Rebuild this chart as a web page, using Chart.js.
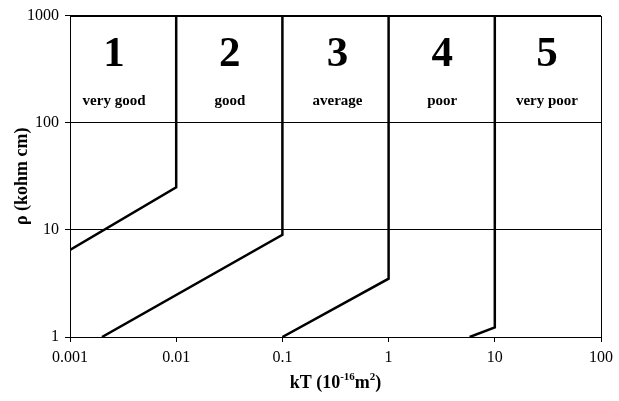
<!DOCTYPE html>
<html>
<head>
<meta charset="utf-8">
<script src="https://cdn.jsdelivr.net/npm/chart.js@4/dist/chart.umd.min.js"></script>
<style>
html,body{margin:0;padding:0;background:#fff;}
#wrap{width:619px;height:401px;position:relative;}
</style>
</head>
<body>
<div id="wrap"><canvas id="c" width="619" height="401"></canvas></div>
<script>
// ---- data ----
const xTicks = [0.001, 0.01, 0.1, 1, 10, 100];
const xTickLabels = ['0.001', '0.01', '0.1', '1', '10', '100'];
const yTicks = [1, 10, 100, 1000];
const yTickLabels = ['1', '10', '100', '1000'];

const line1X = [0.001, 0.01, 0.01];
const line1Y = [6.5, 25, 1000];
const line2X = [0.002, 0.1, 0.1];
const line2Y = [1, 9, 1000];
const line3X = [0.1, 1, 1];
const line3Y = [1, 3.5, 1000];
const line4X = [5.8, 10, 10];
const line4Y = [1, 1.23, 1000];

const zoneNumbers = ['1', '2', '3', '4', '5'];
const zoneNames = ['very good', 'good', 'average', 'poor', 'very poor'];
const zoneX = [0.0026, 0.032, 0.33, 3.2, 31];
const zoneNumberY = 430;
const zoneNameY = 160;

const xTitleParts = [['kT (10', false], ['-16', true], ['m', false], ['2', true], [')', false]];
const yTitle = 'ρ (kohm cm)';

function pts(xs, ys) { return xs.map((x, i) => ({x: x, y: ys[i]})); }

const FONT = '"Liberation Serif", "Times New Roman", serif';

const decor = {
  id: 'decor',
  afterDraw(chart) {
    const ctx = chart.ctx;
    const a = chart.chartArea;
    const xs = chart.scales.x, ys = chart.scales.y;
    ctx.save();
    // plot border
    ctx.strokeStyle = '#000';
    ctx.lineWidth = 1;
    ctx.strokeRect(Math.round(a.left) + 0.5, Math.round(a.top) + 0.5, Math.round(a.right - a.left), Math.round(a.bottom - a.top));
    // zone labels
    ctx.fillStyle = '#000';
    ctx.textAlign = 'center';
    ctx.textBaseline = 'middle';
    for (let i = 0; i < zoneNumbers.length; i++) {
      const px = xs.getPixelForValue(zoneX[i]);
      ctx.font = 'bold 43px ' + FONT;
      ctx.fillText(zoneNumbers[i], px, ys.getPixelForValue(zoneNumberY));
      ctx.font = 'bold 15px ' + FONT;
      ctx.fillText(zoneNames[i], px, ys.getPixelForValue(zoneNameY));
    }
    // x title with superscripts
    const cx = (a.left + a.right) / 2;
    const ty = 388;
    let total = 0;
    const measured = xTitleParts.map(p => {
      ctx.font = (p[1] ? 'bold 11px ' : 'bold 18px ') + FONT;
      const w = ctx.measureText(p[0]).width;
      total += w;
      return w;
    });
    let x0 = cx - total / 2;
    ctx.textAlign = 'left';
    ctx.textBaseline = 'alphabetic';
    xTitleParts.forEach((p, i) => {
      ctx.font = (p[1] ? 'bold 11px ' : 'bold 18px ') + FONT;
      ctx.fillText(p[0], x0, p[1] ? ty - 8 : ty);
      x0 += measured[i];
    });
    // y title
    ctx.translate(22, (a.top + a.bottom) / 2);
    ctx.rotate(-Math.PI / 2);
    ctx.textAlign = 'center';
    ctx.textBaseline = 'middle';
    ctx.font = 'bold 18px ' + FONT;
    ctx.fillText(yTitle, 0, 0);
    ctx.restore();
  }
};

const ds = (d) => ({
  data: d,
  showLine: true,
  borderColor: '#000',
  borderWidth: 2.5,
  pointRadius: 0,
  fill: false,
  tension: 0
});

new Chart(document.getElementById('c'), {
  type: 'scatter',
  data: {
    datasets: [
      ds(pts(line1X, line1Y)),
      ds(pts(line2X, line2Y)),
      ds(pts(line3X, line3Y)),
      ds(pts(line4X, line4Y))
    ]
  },
  options: {
    responsive: false,
    animation: false,
    devicePixelRatio: 1,
    layout: {padding: {left: 0, top: 15, right: 18, bottom: 0}},
    plugins: {legend: {display: false}, tooltip: {enabled: false}},
    scales: {
      x: {
        type: 'logarithmic',
        min: 0.001, max: 100,
        afterBuildTicks(s) { s.ticks = xTicks.map(v => ({value: v})); },
        afterFit(s) { s.height = 64; },
        ticks: {
          color: '#000',
          font: {family: FONT, size: 16},
          padding: 6,
          maxRotation: 0,
          autoSkip: false,
          callback: (v) => { const i = xTicks.indexOf(v); return i >= 0 ? xTickLabels[i] : ''; }
        },
        grid: {drawOnChartArea: false, drawTicks: true, tickLength: 5, color: '#000'},
        border: {display: true, color: '#000'}
      },
      y: {
        type: 'logarithmic',
        min: 1, max: 1000,
        afterBuildTicks(s) { s.ticks = yTicks.map(v => ({value: v})); },
        afterFit(s) { s.width = 70; },
        ticks: {
          color: '#000',
          font: {family: FONT, size: 16},
          padding: 6,
          autoSkip: false,
          callback: (v) => { const i = yTicks.indexOf(v); return i >= 0 ? yTickLabels[i] : ''; }
        },
        grid: {drawOnChartArea: true, drawTicks: true, tickLength: 5, color: '#000'},
        border: {display: true, color: '#000'}
      }
    }
  },
  plugins: [decor]
});
</script>
</body>
</html>
